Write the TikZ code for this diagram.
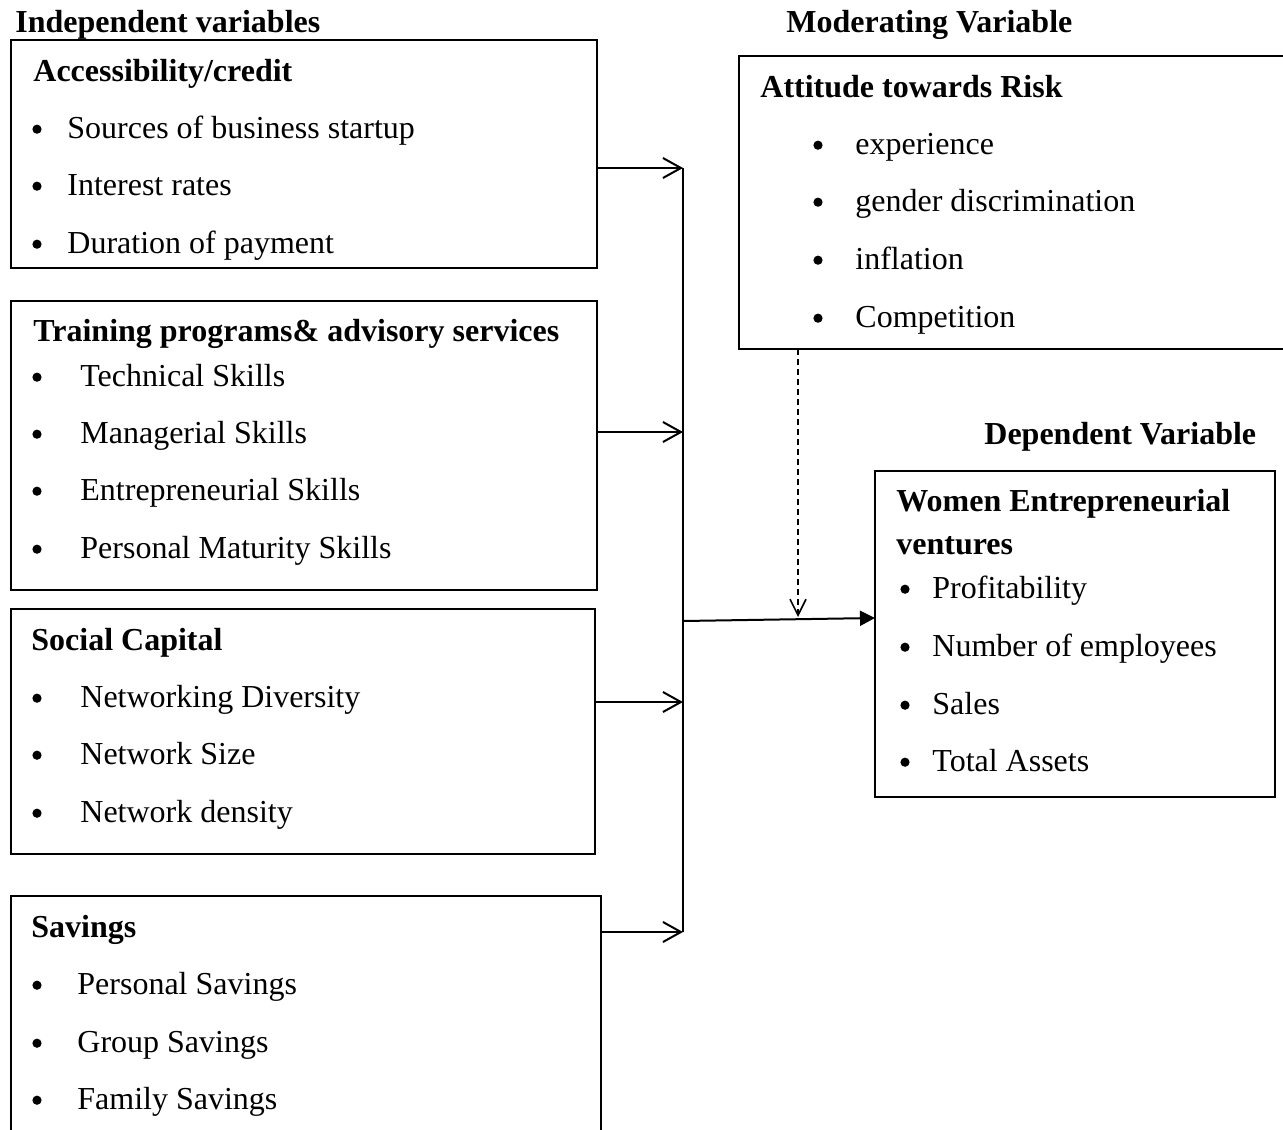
\documentclass[tikz,border=0pt]{standalone}
\usepackage{fontspec}
\setmainfont{Liberation Serif}
\usetikzlibrary{arrows.meta}
\begin{document}
\begin{tikzpicture}[x=0.5pt,y=-0.5pt,
    txt/.style={anchor=west, inner sep=0pt, text height=10.6pt, text depth=0pt, font=\fontsize{16}{19}\selectfont},
    hd/.style={txt, font=\fontsize{16}{19}\selectfont\bfseries},
    blt/.style={circle, fill=black, inner sep=0pt, minimum size=4.6pt, yshift=-0.6pt},
    bx/.style={line width=1pt, draw=black},
    openarr/.style={line width=1pt, -{Straight Barb[length=9pt,width=10pt,line width=1pt]}},
    mainarr/.style={line width=1pt, -{Triangle[length=7.5pt,width=7.5pt]}},
    modarr/.style={line width=0.8pt, dash pattern=on 3pt off 2pt, -{Straight Barb[length=8pt,width=8pt,line width=0.8pt]}}]
        \clip (0,0) rectangle (1283,1129);
        % Encabezados
        \node[hd] (indep) at (15,22) {Independent variables};
        \node[hd] (moder) at (786,22) {Moderating Variable};
        \node[hd] (dep) at (984,434) {Dependent Variable};
        % Accessibility/credit
        \draw[bx] (11,40) rectangle (597,268);
        \node[hd] (acc) at (33,71) {Accessibility/credit};
        \node[blt] (accb1) at (37,128) {}; \node[txt] (acc1) at (67,128) {Sources of business startup};
        \node[blt] (accb2) at (37,185) {}; \node[txt] (acc2) at (67,185) {Interest rates};
        \node[blt] (accb3) at (37,243) {}; \node[txt] (acc3) at (67,243) {Duration of payment};
        % Training programs
        \draw[bx] (11,301) rectangle (597,590);
        \node[hd] (trn) at (33,331) {Training programs\& advisory services};
        \node[blt] (trnb1) at (37,376) {}; \node[txt] (trn1) at (80,376) {Technical Skills};
        \node[blt] (trnb2) at (37,433) {}; \node[txt] (trn2) at (80,433) {Managerial Skills};
        \node[blt] (trnb3) at (37,490) {}; \node[txt] (trn3) at (80,490) {Entrepreneurial Skills};
        \node[blt] (trnb4) at (37,548) {}; \node[txt] (trn4) at (80,548) {Personal Maturity Skills};
        % Social Capital
        \draw[bx] (11,609) rectangle (595,854);
        \node[hd] (soc) at (31,640) {Social Capital};
        \node[blt] (socb1) at (37,697) {}; \node[txt] (soc1) at (80,697) {Networking Diversity};
        \node[blt] (socb2) at (37,754) {}; \node[txt] (soc2) at (80,754) {Network Size};
        \node[blt] (socb3) at (37,812) {}; \node[txt] (soc3) at (80,812) {Network density};
        % Savings
        \draw[bx] (11,896) rectangle (601,1140);
        \node[hd] (sav) at (31,927) {Savings};
        \node[blt] (savb1) at (37,984) {}; \node[txt] (sav1) at (77,984) {Personal Savings};
        \node[blt] (savb2) at (37,1042) {}; \node[txt] (sav2) at (77,1042) {Group Savings};
        \node[blt] (savb3) at (37,1099) {}; \node[txt] (sav3) at (77,1099) {Family Savings};
        % Attitude towards Risk
        \draw[bx] (739,56) rectangle (1295,349);
        \node[hd] (att) at (760,87) {Attitude towards Risk};
        \node[blt] (attb1) at (818,144) {}; \node[txt] (att1) at (855,144) {experience};
        \node[blt] (attb2) at (818,201) {}; \node[txt] (att2) at (855,201) {gender discrimination};
        \node[blt] (attb3) at (818,259) {}; \node[txt] (att3) at (855,259) {inflation};
        \node[blt] (attb4) at (818,317) {}; \node[txt] (att4) at (855,317) {Competition};
        % Women Entrepreneurial ventures
        \draw[bx] (875,471) rectangle (1275,797);
        \node[hd] (wom) at (896,501) {Women Entrepreneurial};
        \node[hd] (wom0) at (896,544) {ventures};
        \node[blt] (womb1) at (905,588) {}; \node[txt] (wom1) at (932,588) {Profitability};
        \node[blt] (womb2) at (905,646) {}; \node[txt] (wom2) at (932,646) {Number of employees};
        \node[blt] (womb3) at (905,704) {}; \node[txt] (wom3) at (932,704) {Sales};
        \node[blt] (womb4) at (905,761) {}; \node[txt] (wom4) at (932,761) {Total Assets};
        % Conectores
        \coordinate (accE) at (597,168);  \coordinate (j1) at (683,168);
        \coordinate (trnE) at (597,432);  \coordinate (j2) at (683,432);
        \coordinate (socE) at (595,702);  \coordinate (j3) at (683,702);
        \coordinate (savE) at (601,932);  \coordinate (j4) at (683,932);
        \coordinate (jm) at (683,621);    \coordinate (womW) at (875,618);
        \coordinate (attS) at (798,349);  \coordinate (modT) at (798,617);
        \draw[openarr] (accE) -- (j1);
        \draw[openarr] (trnE) -- (j2);
        \draw[openarr] (socE) -- (j3);
        \draw[openarr] (savE) -- (j4);
        \draw[line width=1pt] (j1) -- (j4);
        \draw[mainarr] (jm) -- (womW);
        \draw[modarr] (attS) -- (modT);
    \end{tikzpicture}
\end{document}
